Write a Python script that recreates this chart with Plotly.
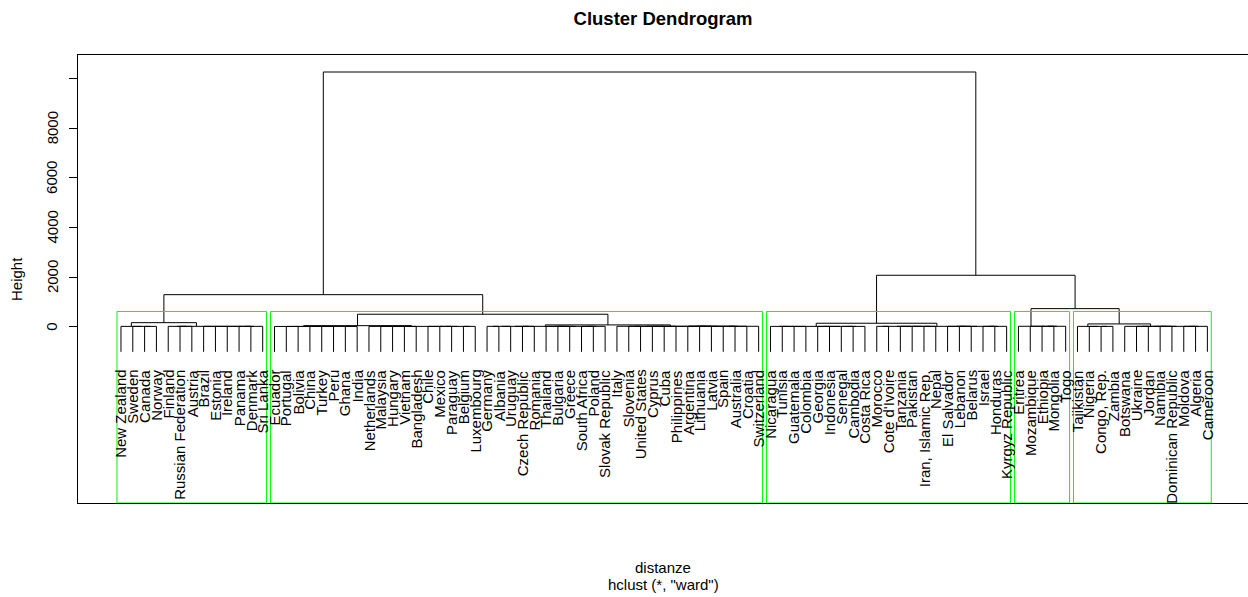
import plotly.graph_objects as go

# ---- leaf groups: nested pairs of countries (each pair is one merge) ----
c1_left = ["New Zealand", ["Sweden", ["Canada", "Norway"]]]
c1_right = [["Finland", ["Russian Federation", "Austria"]],
            ["Brazil", ["Estonia", ["Ireland", [["Panama", "Denmark"], "Sri Lanka"]]]]]
c2_a = ["Ecuador", [[[["Portugal", "Bolivia"], "China"], ["Turkey", "Peru"]], ["Ghana", "India"]]]
c2_b = [["Netherlands", ["Malaysia", ["Hungary", ["Vietnam", "Bangladesh"]]]],
        ["Chile", [["Mexico", "Paraguay"], ["Belgium", "Luxembourg"]]]]
c2_d = [[[["Germany", "Albania"], "Uruguay"], ["Czech Republic", "Romania"]],
        [["Thailand", ["Bulgaria", "Greece"]], [["South Africa", "Poland"], "Slovak Republic"]]]
c2_e = ["Italy", [[[[["Slovenia", "United States"], ["Cyprus", "Cuba"]], "Philippines"],
                   [["Argentina", ["Lithuania", "Latvia"]], [["Spain", "Australia"], "Croatia"]]],
                  "Switzerland"]]
c3_left = [[["Nicaragua", ["Tunisia", "Guatemala"]], "Colombia"],
           [["Georgia", "Indonesia"], [["Senegal", "Cambodia"], "Costa Rica"]]]
c3_right = [[["Morocco", "Cote d'Ivoire"], ["Tanzania", ["Pakistan", ["Iran, Islamic Rep.", "Nepal"]]]],
            [["El Salvador", ["Lebanon", "Belarus"]], [["Israel", "Honduras"], "Kyrgyz Republic"]]]
c4 = ["Eritrea", ["Mozambique", [["Ethiopia", "Mongolia"], "Togo"]]]
c5_left = ["Tajikistan", ["Nigeria", ["Congo, Rep.", "Zambia"]]]
c5_right = ["Botswana", [[["Ukraine", "Jordan"], ["Namibia", "Dominican Republic"]],
                         [["Moldova", "Algeria"], "Cameroon"]]]

group_names = ["c1_left", "c1_right", "c2_a", "c2_b", "c2_d", "c2_e",
               "c3_left", "c3_right", "c4", "c5_left", "c5_right"]
group_trees = [c1_left, c1_right, c2_a, c2_b, c2_d, c2_e,
               c3_left, c3_right, c4, c5_left, c5_right]
group_heights = [10, 12, 8, 10, 12, 14, 10, 12, 15, 10, 12]

# ---- upper merges (Ward heights) ----
upper_name = ["c1", "c2_ab", "c2_de", "c2", "left", "c3", "c5", "c45", "right", "root"]
upper_left = ["c1_left", "c2_a", "c2_d", "c2_ab", "c1", "c3_left", "c5_left", "c4", "c3", "left"]
upper_right = ["c1_right", "c2_b", "c2_e", "c2_de", "c2", "c3_right", "c5_right", "c5", "c45", "right"]
upper_height = [160, 40, 70, 500, 1290, 137, 110, 726, 2072, 10270]

# clusters highlighted by rect.hclust (k = 5)
rect_groups = [["c1_left", "c1_right"], ["c2_a", "c2_b", "c2_d", "c2_e"],
               ["c3_left", "c3_right"], ["c4"], ["c5_left", "c5_right"]]

y_ticks = [0, 2000, 4000, 6000, 8000, 10000]
y_tick_text = ["0", "2000", "4000", "6000", "8000", ""]


# ---- build the tree ----
def to_tree(node, h):
    if isinstance(node, str):
        return node
    return (h, to_tree(node[0], h), to_tree(node[1], h))


subtree = {n: to_tree(t, h) for n, t, h in zip(group_names, group_trees, group_heights)}
for n, l, r, h in zip(upper_name, upper_left, upper_right, upper_height):
    subtree[n] = (h, subtree[l], subtree[r])

all_heights = list(group_heights) + list(upper_height)
hang = 0.1 * (max(all_heights) - min(all_heights))

leaves, leaf_bottom = [], []
seg_x, seg_y = [], []


def place(t):
    if isinstance(t, str):
        leaves.append(t)
        return len(leaves) - 1, None
    h, l, r = t
    xl, hl = place(l)
    xr, hr = place(r)
    for xc, hc in ((xl, hl), (xr, hr)):
        if hc is None:
            hc = h - hang
            leaf_bottom.append((xc, hc))
        seg_x.extend([xc, xc, None])
        seg_y.extend([h, hc, None])
    seg_x.extend([xl, xr, None])
    seg_y.extend([h, h, None])
    return (xl + xr) / 2, h


place(subtree["root"])


def leaf_span(name):
    idx = []

    def walk(t):
        if isinstance(t, str):
            idx.append(leaves.index(t))
        else:
            walk(t[1])
            walk(t[2])
    walk(subtree[name])
    return min(idx), max(idx)


sorted_h = sorted(all_heights, reverse=True)
rect_top = (sorted_h[3] + sorted_h[4]) / 2

FONT = "Liberation Sans, Arial, sans-serif"
Y_MIN, Y_MAX = -7113, 10956
BLACK = "#000000"

fig = go.Figure()
fig.add_trace(go.Scatter(x=seg_x, y=seg_y, mode="lines",
                         line=dict(color=BLACK, width=1),
                         hoverinfo="skip", showlegend=False))

annotations = []
for xc, hc in sorted(leaf_bottom):
    annotations.append(dict(x=xc, y=hc, xref="x", yref="y", text=leaves[int(xc)],
                            textangle=-90, showarrow=False, xanchor="center",
                            yanchor="top", yshift=-16,
                            font=dict(family=FONT, size=15, color=BLACK)))

# rotated y tick labels, as R draws them (parallel to the axis)
for v, t in zip(y_ticks, y_tick_text):
    if t:
        annotations.append(dict(x=-0.0222, y=v, xref="paper", yref="y", text=t,
                                textangle=-90, showarrow=False, xanchor="center",
                                yanchor="middle",
                                font=dict(family=FONT, size=15, color=BLACK)))

shapes = []
for grp in rect_groups:
    spans = [leaf_span(g) for g in grp]
    lo = min(s[0] for s in spans)
    hi = max(s[1] for s in spans)
    shapes.append(dict(type="rect", xref="x", yref="y", x0=lo - 0.34, x1=hi + 0.33,
                       y0=Y_MIN, y1=rect_top, line=dict(color="#00ff00", width=1),
                       fillcolor="rgba(0,0,0,0)", layer="above"))

annotations += [
    dict(x=-0.053, y=0.5, xref="paper", yref="paper", text="Height", textangle=-90,
         showarrow=False, xanchor="center", yanchor="middle",
         font=dict(family=FONT, size=15, color=BLACK)),
    dict(x=0.5, y=-0.145, xref="paper", yref="paper", text="distanze",
         showarrow=False, xanchor="center", yanchor="middle",
         font=dict(family=FONT, size=15, color=BLACK)),
    dict(x=0.5, y=-0.183, xref="paper", yref="paper", text='hclust (*, "ward")',
         showarrow=False, xanchor="center", yanchor="middle",
         font=dict(family=FONT, size=15, color=BLACK)),
]

fig.update_layout(
    width=1248, height=597,
    margin=dict(l=78, r=0, t=55, b=94),
    paper_bgcolor="white", plot_bgcolor="white",
    title=dict(text="<b>Cluster Dendrogram</b>", x=663 / 1248, xanchor="center",
               xref="container", yref="container", y=1 - 18.5 / 597, yanchor="middle",
               font=dict(family=FONT, size=18.5, color=BLACK)),
    xaxis=dict(range=[-3.64, 95.44], showgrid=False, zeroline=False,
               showticklabels=False, ticks="", showline=True, mirror=True,
               linecolor=BLACK, linewidth=1, fixedrange=True),
    yaxis=dict(range=[Y_MIN, Y_MAX], showgrid=False, zeroline=False,
               tickvals=y_ticks, showticklabels=False,
               ticks="outside", ticklen=8, tickcolor=BLACK, tickwidth=1,
               showline=True, mirror=False, linecolor=BLACK, linewidth=1,
               fixedrange=True),
    annotations=annotations,
    shapes=shapes,
)

fig.write_html("out.html")
